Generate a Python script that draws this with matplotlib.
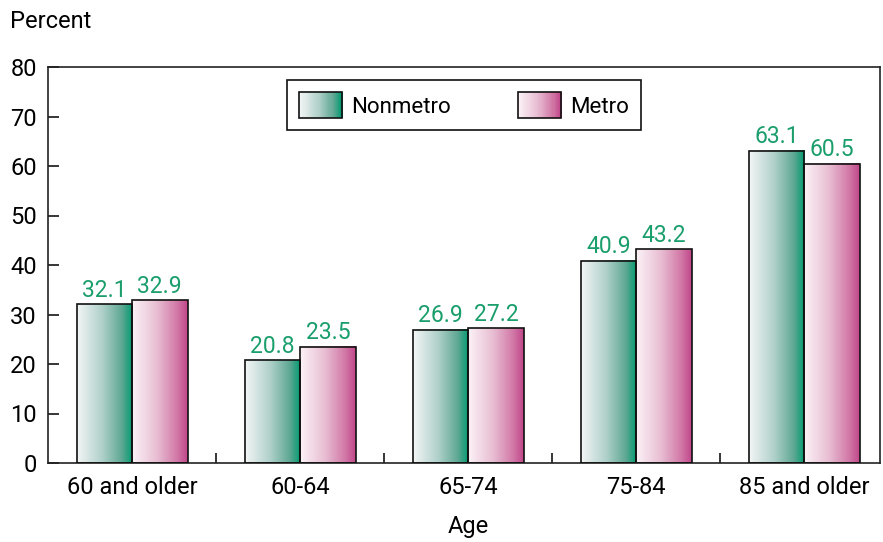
import numpy as np
import matplotlib
matplotlib.use("Agg")
import matplotlib.pyplot as plt
from matplotlib.colors import LinearSegmentedColormap
from matplotlib.patches import Rectangle
from matplotlib.legend_handler import HandlerBase

categories = ["60 and older", "60-64", "65-74", "75-84", "85 and older"]
nonmetro = [32.1, 20.8, 26.9, 40.9, 63.1]
metro = [32.9, 23.5, 27.2, 43.2, 60.5]
series_names = ["Nonmetro", "Metro"]
yticks = [0, 10, 20, 30, 40, 50, 60, 70, 80]

plt.rcParams["font.family"] = ["Roboto", "DejaVu Sans"]

green_cmap = LinearSegmentedColormap.from_list(
    "g", [(0, "#f3f6f6"), (0.45, "#b0d0ca"), (0.8, "#5fa893"), (1, "#009a70")])
pink_cmap = LinearSegmentedColormap.from_list(
    "p", [(0, "#fcf3f7"), (0.45, "#e8bdd2"), (0.8, "#d27aa8"), (1, "#c0468a")])
label_color = "#1a9e6c"

fig = plt.figure(figsize=(8.83, 5.42), dpi=100)
ax = fig.add_axes([48 / 883, 1 - 463 / 542, (880 - 48) / 883, (463 - 67) / 542])

x = np.arange(len(categories))
w = 0.33
grad = np.linspace(0, 1, 256).reshape(1, -1)

for vals, off, cmap in [(nonmetro, -w / 2, green_cmap), (metro, w / 2, pink_cmap)]:
    bars = ax.bar(x + off, vals, width=w, facecolor="none", edgecolor="#111111",
                  linewidth=1.2, zorder=3)
    for b, v in zip(bars, vals):
        x0 = b.get_x()
        ax.imshow(grad, extent=[x0, x0 + w, 0, v], aspect="auto", cmap=cmap,
                  zorder=2, interpolation="bilinear")
        ax.text(x0 + w / 2, v + 0.5, f"{v:.1f}", ha="center", va="bottom",
                color=label_color, fontsize=16.5, zorder=4)

ax.set_xlim(-0.5, 4.45)
ax.set_ylim(0, 80)
ax.set_yticks(yticks)
ax.set_yticklabels([str(t) for t in yticks], fontsize=17)
ax.tick_params(axis="y", direction="in", length=8, width=1.1, pad=8)
ax.set_xticks(x)
ax.set_xticklabels(categories, fontsize=17)
ax.set_xticks(np.arange(0.5, 4.0, 1.0), minor=True)
ax.tick_params(axis="x", which="major", length=0, pad=9)
ax.tick_params(axis="x", which="minor", direction="in", length=7, width=1.1)
for s in ax.spines.values():
    s.set_linewidth(1.2)
    s.set_color("#222222")

fig.text(10 / 883, 1 - 22 / 542, "Percent", fontsize=17, ha="left", va="center")
fig.text(468 / 883, 1 - 527 / 542, "Age", fontsize=17, ha="center", va="center")


class GradHandler(HandlerBase):
    def __init__(self, cmap):
        super().__init__()
        self.cmap = cmap

    def create_artists(self, legend, orig_handle, xdescent, ydescent, width,
                       height, fontsize, trans):
        arts = []
        n = 40
        for i in range(n):
            r = Rectangle((-xdescent + width * i / n, -ydescent), width / n + 0.3, height,
                          facecolor=self.cmap(i / (n - 1)), edgecolor="none",
                          transform=trans)
            arts.append(r)
        arts.append(Rectangle((-xdescent, -ydescent), width, height, facecolor="none",
                              edgecolor="#111111", linewidth=1.2, transform=trans))
        return arts


h1 = Rectangle((0, 0), 1, 1)
h2 = Rectangle((0, 0), 1, 1)
leg = ax.legend([h1, h2], series_names, handler_map={h1: GradHandler(green_cmap),
                                                      h2: GradHandler(pink_cmap)},
                loc="upper center", bbox_to_anchor=(0.5, 0.967), ncol=2,
                fontsize=16, frameon=True, fancybox=False, edgecolor="#111111",
                framealpha=1.0, handlelength=1.95, handleheight=1.4,
                columnspacing=3.0, handletextpad=0.4, borderpad=0.55,
                borderaxespad=0)
leg.get_frame().set_linewidth(1.2)
leg.set_zorder(5)

fig.savefig("out.png", dpi=100)
